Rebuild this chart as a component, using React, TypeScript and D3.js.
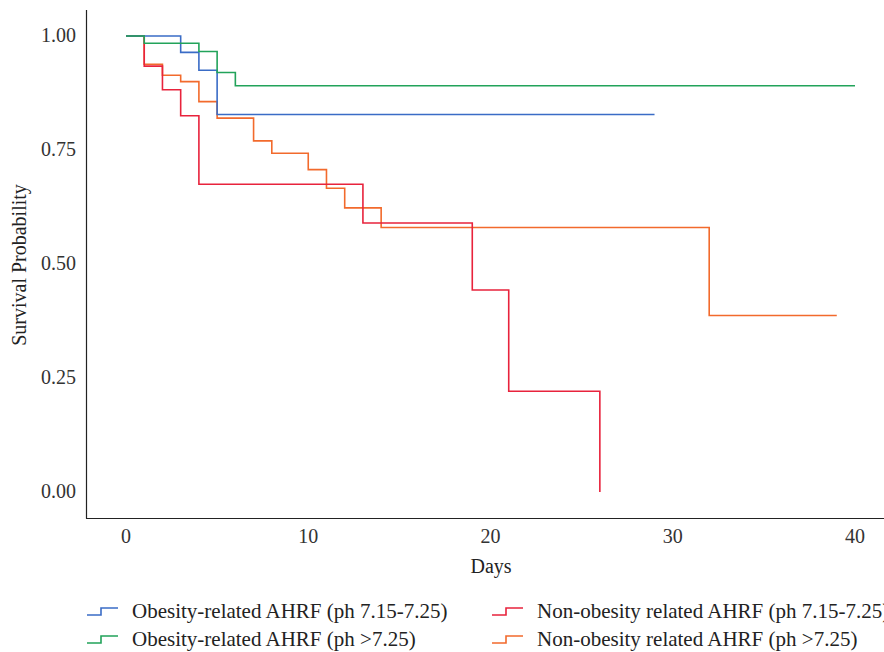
import React, { useEffect, useRef } from 'react';
import * as d3 from 'd3';

// survival steps: [day, probability]
const obesityLow = [[0, 1], [3, 0.964], [4, 0.925], [5, 0.828], [29, 0.828]];
const obesityHigh = [[0, 1], [1, 0.984], [4, 0.966], [5, 0.92], [6, 0.891], [40, 0.891]];
const nonObesityLow = [[0, 1], [1, 0.934], [2, 0.882], [3, 0.825], [4, 0.675], [13, 0.59], [19, 0.443], [21, 0.221], [26, 0]];
const nonObesityHigh = [[0, 1], [1, 0.938], [2, 0.914], [3, 0.9], [4, 0.856], [5, 0.82], [7, 0.77], [8, 0.743], [10, 0.707], [11, 0.666], [12, 0.623], [14, 0.58], [32, 0.387], [39, 0.387]];

const seriesNames = [
  'Obesity-related AHRF (ph 7.15-7.25)',
  'Obesity-related AHRF (ph >7.25)',
  'Non-obesity related AHRF (ph 7.15-7.25)',
  'Non-obesity related AHRF (ph >7.25)',
];
const seriesColors = ['#3a6cc6', '#22a35a', '#e8233c', '#f26a2c'];
const xTicks = [0, 10, 20, 30, 40];
const yTicks = [0, 0.25, 0.5, 0.75, 1];

const App = () => {
  const svgRef = useRef(null);

  useEffect(() => {
    const svg = d3.select(svgRef.current);
    svg.selectAll('*').remove();
    const width = 884;
    const height = 652;
    const font = '"Liberation Serif", serif';

    const x = d3.scaleLinear().domain([0, 40]).range([126, 855]);
    const y = d3.scaleLinear().domain([0, 1]).range([492, 36]);

    svg.attr('width', width).attr('height', height);

    // axis frame
    svg.append('line').attr('x1', 86.5).attr('x2', 86.5).attr('y1', 10).attr('y2', 518.5)
      .attr('stroke', '#222').attr('stroke-width', 1.2);
    svg.append('line').attr('x1', 86).attr('x2', 884).attr('y1', 518.5).attr('y2', 518.5)
      .attr('stroke', '#222').attr('stroke-width', 1.2);

    svg.selectAll('.xt').data(xTicks).join('text')
      .attr('class', 'xt')
      .attr('x', (d) => x(d)).attr('y', 543)
      .attr('text-anchor', 'middle')
      .attr('font-family', font).attr('font-size', 20).attr('fill', '#333')
      .text((d) => d);

    svg.selectAll('.yt').data(yTicks).join('text')
      .attr('class', 'yt')
      .attr('x', 76).attr('y', (d) => y(d) + 6)
      .attr('text-anchor', 'end')
      .attr('font-family', font).attr('font-size', 20).attr('fill', '#333')
      .text((d) => d3.format('.2f')(d));

    svg.append('text').attr('x', 491).attr('y', 573).attr('text-anchor', 'middle')
      .attr('font-family', font).attr('font-size', 20).attr('fill', '#222').text('Days');
    svg.append('text').attr('transform', 'translate(26,265) rotate(-90)').attr('text-anchor', 'middle')
      .attr('font-family', font).attr('font-size', 20).attr('fill', '#222').text('Survival Probability');

    const line = d3.line()
      .x((d) => x(d[0]))
      .y((d) => y(d[1]))
      .curve(d3.curveStepAfter);

    const all = [obesityLow, obesityHigh, nonObesityLow, nonObesityHigh];
    // draw orange first so red sits on top like the original
    [3, 2, 0, 1].forEach((i) => {
      svg.append('path').attr('d', line(all[i])).attr('fill', 'none')
        .attr('stroke', seriesColors[i]).attr('stroke-width', 1.6);
    });

    // legend
    const legendPos = [[87, 611], [87, 639], [492, 611], [492, 639]];
    seriesNames.forEach((name, i) => {
      const [lx, ly] = legendPos[i];
      const g = svg.append('g').attr('transform', `translate(${lx},${ly})`);
      g.append('path').attr('d', 'M0,4H14V-3H31').attr('fill', 'none')
        .attr('stroke', seriesColors[i]).attr('stroke-width', 1.6);
      g.append('text').attr('x', 45).attr('y', 7)
        .attr('font-family', font).attr('font-size', 21).attr('fill', '#222').text(name);
    });
  }, []);

  return <svg ref={svgRef} style={{ position: 'absolute', left: 0, top: 0, background: '#fff' }} />;
};

export default App;
